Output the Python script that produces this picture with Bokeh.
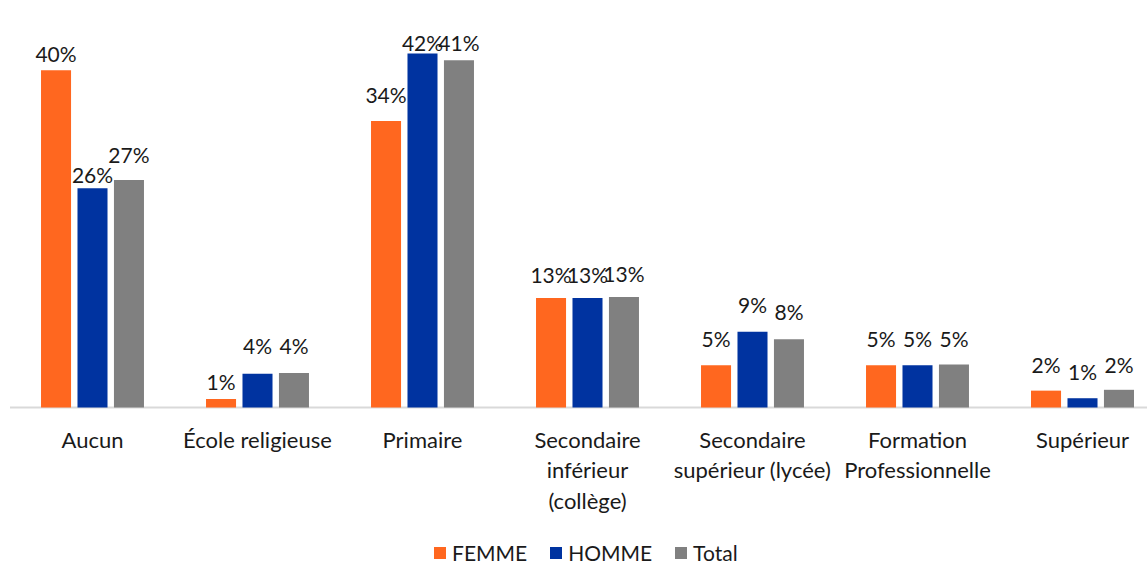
from bokeh.plotting import figure
from bokeh.models import ColumnDataSource, Range1d
from bokeh.core.properties import value
from bokeh.embed import file_html
from bokeh.resources import INLINE

# ---- data ----
categories = ["Aucun", "École religieuse", "Primaire", "Secondaire\ninférieur\n(collège)",
              "Secondaire\nsupérieur (lycée)", "Formation\nProfessionnelle", "Supérieur"]
series_names = ["FEMME", "HOMME", "Total"]
femme = [40.0, 1.0, 34.0, 13.0, 5.0, 5.0, 2.0]
homme = [26.0, 4.0, 42.0, 13.0, 9.0, 5.0, 1.1]
total = [27.0, 4.1, 41.2, 13.1, 8.1, 5.1, 2.1]
colors = ["#FF671F", "#0033A0", "#808080"]

# label gaps above bars (screen px) as placed in the original
label_gap_femme = [4, 5, 14, 11, 14, 14, 14]
label_gap_homme = [1, 16, -2, 11, 15, 14, 14]
label_gap_total = [13, 15, 5, 11, 15, 14, 13]

FONT = "Lato"
TXT = "#1a1a1a"

W, H = 1147, 565
p = figure(width=W, height=H, output_backend="svg", toolbar_location=None,
           x_range=Range1d(-92 / 165, (W - 92) / 165),
           y_range=Range1d(-(H - 407) / 8.43, 407 / 8.43),
           min_border=0, outline_line_color=None)
p.xaxis.visible = False
p.yaxis.visible = False
p.grid.visible = False
p.background_fill_color = "white"
p.border_fill_color = "white"

n = len(categories)
xs = list(range(n))

# baseline axis line
p.segment(x0=[-0.5], x1=[n - 0.5], y0=[0], y1=[0], line_color="#d9d9d9", line_width=2)

offsets = [-0.221, 0.0, 0.221]
bar_w = 0.182
for name, vals, col, off, gaps in zip(series_names, [femme, homme, total], colors, offsets,
                                      [label_gap_femme, label_gap_homme, label_gap_total]):
    src = ColumnDataSource(dict(x=[x + off for x in xs], top=vals,
                                lab=[f"{round(v)}%" for v in vals],
                                yo=[-g for g in gaps]))
    p.vbar(x="x", top="top", width=bar_w, source=src, fill_color=col, line_color=None,
           legend_label=name)
    p.text(x="x", y="top", text="lab", source=src, text_align="center",
           text_baseline="bottom", y_offset="yo", text_font=value(FONT),
           text_font_size="21px", text_color=TXT)

# category labels
csrc = ColumnDataSource(dict(x=xs, y=[0] * n, t=categories))
p.text(x="x", y="y", text="t", source=csrc, text_align="center", text_baseline="top",
       y_offset=18, text_font=value(FONT), text_font_size="22px", text_color=TXT,
       text_line_height=1.14)

lg = p.legend[0]
lg.orientation = "horizontal"
lg.location = (432, 0)
lg.glyph_width = 15
lg.glyph_height = 15
lg.label_standoff = 5
lg.spacing = 21
lg.padding = 0
lg.margin = 0
lg.border_line_color = None
lg.background_fill_alpha = 0
lg.label_text_font = FONT
lg.label_text_font_size = "21px"
lg.label_text_color = TXT

open("out.html", "w").write(file_html(p, INLINE))
